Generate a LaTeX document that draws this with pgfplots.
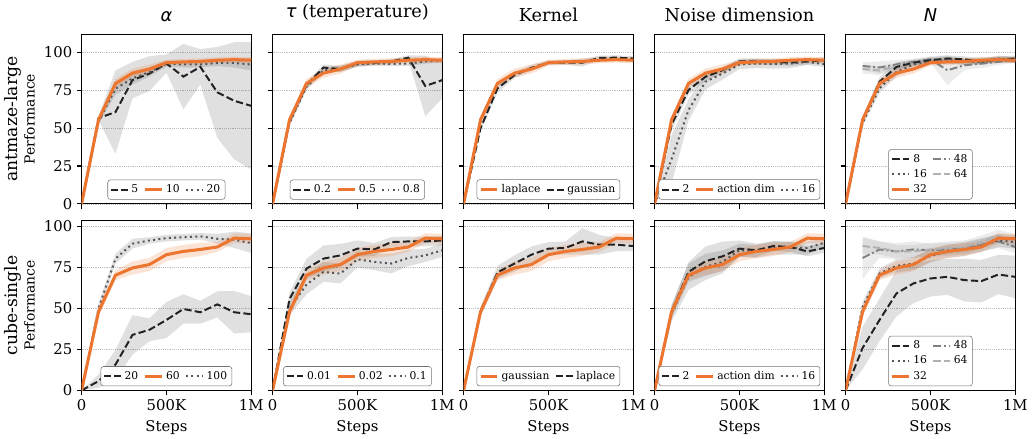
\documentclass[border=0pt]{standalone}
\usepackage{fontspec}
\setmainfont{DejaVu Serif}
\newfontfamily\dvsans{DejaVu Sans}
\usepackage{pgfplots}
\usepackage{pgfplotstable}
\pgfplotsset{compat=1.18}
\usepgfplotslibrary{groupplots,fillbetween}

\definecolor{orng}{HTML}{EC7630}
\definecolor{dk}{HTML}{222222}
\definecolor{dotc}{HTML}{555555}
\definecolor{midc}{HTML}{808080}
\definecolor{ltc}{HTML}{B0B0B0}

\pgfplotsset{
  orl/.style={orng, line width=2.3pt},
  dsh/.style={dk, line width=1.5pt, dash pattern=on 5.5pt off 2.4pt},
  dtt/.style={dotc, line width=1.5pt, dash pattern=on 1.5pt off 2.5pt},
  dshdot/.style={midc, line width=1.5pt, dash pattern=on 6pt off 2pt on 1.5pt off 2pt},
  ltdsh/.style={ltc, line width=1.5pt, dash pattern=on 5.5pt off 2.4pt},
  gband/.style={fill=black, fill opacity=0.12},
  oband/.style={fill=orng, fill opacity=0.2},
  lband/.style={fill=midc, fill opacity=0.15},
}

% band: mean +- s
\newcommand\band[3]{%
  \addplot[draw=none, forget plot, name path=#3u] table[x=x, y expr=\thisrow{m}+\thisrow{s}] {#1};
  \addplot[draw=none, forget plot, name path=#3l] table[x=x, y expr=\thisrow{m}-\thisrow{s}] {#1};
  \addplot[#2, forget plot] fill between[of=#3u and #3l];
}
\newcommand\curve[2]{\addplot[#2, forget plot] table[x=x, y=m] {#1};}

% ---- top row: antmaze-large
\pgfplotstableread{
x m s
0 0 0
100 55.5 2
200 79.5 3
300 86.3 3
400 89 3
500 93.2 2
600 93.7 2
700 94 2
800 94.8 2
900 95.2 2
1000 94.8 2
}\topor
\pgfplotstableread{
x m s
0 0 0
100 56.6 1.5
200 60.6 27.5
300 81.7 12
400 86 11.5
500 92.6 6
600 84 21.6
700 90.4 11.7
800 73.6 30
900 68 38.7
1000 64.7 42
}\aFive
\pgfplotstableread{
x m s
0 0 0
100 54.5 2
200 76 4
300 82.8 4
400 87 3
500 92.6 2
600 92 2
700 92 2
800 93 2
900 93 3
1000 92 4
}\aTwenty
\pgfplotstableread{
x m s
0 0 0
100 54.5 2
200 78.4 2
300 90 2
400 89 2
500 92.6 2
600 93.2 1.5
700 94 1.5
800 96.5 1.5
900 77.8 20
1000 81.7 12
}\tTwo
\pgfplotstableread{
x m s
0 0 0
100 53.4 2
200 77.3 2
300 88.2 2
400 89.3 2
500 92 1.5
600 92.6 1.5
700 92.4 1.5
800 92.6 1.5
900 94 1.5
1000 94.8 1.5
}\tEight
\pgfplotstableread{
x m s
0 0 0
100 50 2
200 76.3 3
300 85 2
400 89.8 2
500 93.2 1.5
600 93.2 1.5
700 93.2 2.5
800 96.3 1.5
900 96.5 1.5
1000 95.9 1.5
}\kGauss
\pgfplotstableread{
x m s
0 0 0
100 52.3 4
200 75.2 3
300 83.9 3
400 88.2 2
500 94 2
600 94 2
700 93.7 2
800 93.2 2
900 94 2
1000 94.8 2
}\nTwo
\pgfplotstableread{
x m s
0 0 0
100 29.4 16
200 62 7
300 80.6 5
400 86 4
500 92 3
600 92.6 3
700 92.2 3
800 92.6 3
900 93.7 2
1000 92.2 2
}\nSixteen
\pgfplotstableread{
x m s
0 0 0
100 55.5 2
200 80.6 3
300 90.4 3
400 93.2 2
500 94.8 2
600 95.9 2
700 95.4 2
800 94 2
900 95.2 2
1000 95.9 2
}\NEight
\pgfplotstableread{
x m s
0 0 0
100 53.4 2
200 76.3 3
300 87 3
400 92 2
500 94 2
600 94.8 2
700 93.7 2
800 93.7 2
900 95.9 2
1000 94.8 2
}\NSixteen
\pgfplotstableread{
x m s
100 91 2.5
200 90 4
300 92 3
400 93.7 2
500 95.5 2
600 88.2 10
700 91.5 3
800 92.6 3
900 93.7 2
1000 95.2 2
}\NFortyEight
\pgfplotstableread{
x m s
100 89 3
200 88 3
300 91 2
400 93 2
500 94 2
600 95 2
700 94 2
800 95 2
900 95 2
1000 95 2
}\NSixtyFour

% ---- bottom row: cube-single
\pgfplotstableread{
x m s
0 0 0
100 48 3
200 70.3 3
300 74.7 4
400 76.8 4
500 82.8 4
600 84.8 4
700 86 4
800 87.5 3
900 92.9 3
1000 92.5 3
}\botor
\pgfplotstableread{
x m s
0 0 0
100 5.7 4
200 15.8 9
300 33.9 12
400 37 7
500 43 11
600 49.7 9
700 47.7 7
800 52.5 8
900 47.7 13
1000 46.5 11
}\bTwenty
\pgfplotstableread{
x m s
0 0 0
100 50 3
200 80.4 3
300 89.5 3
400 91.5 2
500 92.9 2
600 93.5 2
700 94 2
800 92.5 3
900 91.9 5
1000 89.9 6
}\bHundred
\pgfplotstableread{
x m s
0 0 0
100 55.8 4
200 74.3 6
300 80.4 8
400 82.4 7
500 86.5 5
600 86 4
700 90.5 3
800 90.9 3
900 90.9 3
1000 91.5 3
}\btOne
\pgfplotstableread{
x m s
0 0 0
100 50 4
200 64.6 6
300 72.3 6
400 71.3 6
500 80 5
600 78.4 5
700 77.4 6
800 80.8 5
900 82.4 4
1000 85.5 4
}\btTen
\pgfplotstableread{
x m s
0 0 0
100 48 3
200 72 4
300 77.4 5
400 82.8 5
500 86.5 4
600 86.9 4
700 90.9 8
800 88.9 6
900 88.9 4
1000 88.1 3
}\bkLap
\pgfplotstableread{
x m s
0 0 0
100 48 4
200 72.3 6
300 78.8 9
400 81.8 9
500 86.5 5
600 85.5 4
700 88.1 3
800 87.5 3
900 84.8 3
1000 86.9 3
}\bnTwo
\pgfplotstableread{
x m s
0 0 0
100 47 5
200 69.3 8
300 75.4 8
400 78.4 7
500 85.5 4
600 84.8 4
700 86.9 4
800 86.9 4
900 86.9 4
1000 90.1 3
}\bnSixteen
\pgfplotstableread{
x m s
0 0 0
100 25.9 13
200 43 13
300 59.2 14
400 65.3 12
500 68.3 11
600 69.3 11
700 67.3 13
800 66.7 13
900 70.7 12
1000 69.3 13
}\bNEight
\pgfplotstableread{
x m s
0 0 0
100 51 3
200 71.3 3
300 76 4
400 77.4 4
500 82 4
600 84.8 4
700 86 4
800 88.5 4
900 91.5 4
1000 90.5 4
}\bNSixteen
\pgfplotstableread{
x m s
100 80.8 13
200 86 5
300 84.8 5
400 86 5
500 85.5 4
600 86 4
700 86.9 4
800 88.9 4
900 90.9 4
1000 87.5 4
}\bNFortyEight
\pgfplotstableread{
x m s
100 88.1 5
200 86.9 4
300 84.8 4
400 84.8 4
500 86 4
600 86.9 4
700 87.5 4
800 90.5 4
900 94.1 4
1000 91.5 4
}\bNSixtyFour

\begin{document}
\begin{tikzpicture}
\begin{groupplot}[
  group style={group size=5 by 2, horizontal sep=16.1pt, vertical sep=12.75pt,
    xticklabels at=edge bottom, yticklabels at=edge left, xlabels at=edge bottom},
  scale only axis, width=128.25pt, height=128.25pt,
  xmin=0, xmax=1000, ymin=0,
  xtick={0,500,1000}, xticklabels={0,500K,1M},
  ytick={0,25,50,75,100},
  xlabel={Steps},
  ymajorgrids, grid style={densely dotted, black!25, line width=0.5pt},
  tick align=outside, tick pos=left, major tick length=3.5pt,
  axis line style={line width=0.8pt},
  every tick/.style={black, line width=0.8pt},
  ticklabel style={font=\fontsize{11.2}{12}\selectfont},
  /pgf/number format/assume math mode=true,
  label style={font=\fontsize{11.2}{12}\selectfont},
  title style={font=\fontsize{13.4}{15}\selectfont},
  legend style={at={(0.5,0.025)}, anchor=south,
    font=\fontsize{8.1}{10}\selectfont, draw=black!55, rounded corners=2pt,
    inner sep=1.6pt, /tikz/every even column/.append style={column sep=2pt}},
  legend cell align=left,
  legend image code/.code={\draw[#1] (0cm,0cm) -- (0.45cm,0cm);},
]
% ---------------- row 1
\nextgroupplot[ymax=112, title={{\dvsans\itshape α}}, legend columns=3,
  ylabel={{\fontsize{13}{15}\selectfont antmaze-large}\\[1pt]{\fontsize{10.5}{12}\selectfont Performance}},
  ylabel style={align=center}]
\addlegendimage{dsh}\addlegendentry{5}
\addlegendimage{orl}\addlegendentry{10}
\addlegendimage{dtt}\addlegendentry{20}
\band{\aFive}{gband}{a}
\band{\aTwenty}{gband}{b}
\band{\topor}{oband}{c}
\curve{\aFive}{dsh}
\curve{\aTwenty}{dtt}
\curve{\topor}{orl}

\nextgroupplot[ymax=112, title={{\dvsans\itshape τ} (temperature)}, legend columns=3]
\addlegendimage{dsh}\addlegendentry{0.2}
\addlegendimage{orl}\addlegendentry{0.5}
\addlegendimage{dtt}\addlegendentry{0.8}
\band{\tTwo}{gband}{a}
\band{\tEight}{gband}{b}
\band{\topor}{oband}{c}
\curve{\tTwo}{dsh}
\curve{\tEight}{dtt}
\curve{\topor}{orl}

\nextgroupplot[ymax=112, title={Kernel}, legend columns=2]
\addlegendimage{orl}\addlegendentry{laplace}
\addlegendimage{dsh}\addlegendentry{gaussian}
\band{\kGauss}{gband}{a}
\band{\topor}{oband}{c}
\curve{\kGauss}{dsh}
\curve{\topor}{orl}

\nextgroupplot[ymax=112, title={Noise dimension}, legend columns=3]
\addlegendimage{dsh}\addlegendentry{2}
\addlegendimage{orl}\addlegendentry{action dim}
\addlegendimage{dtt}\addlegendentry{16}
\band{\nTwo}{gband}{a}
\band{\nSixteen}{gband}{b}
\band{\topor}{oband}{c}
\curve{\nTwo}{dsh}
\curve{\nSixteen}{dtt}
\curve{\topor}{orl}

\nextgroupplot[ymax=112, title={{\dvsans\itshape N}}, legend columns=2]
\addlegendimage{dsh}\addlegendentry{8}
\addlegendimage{dshdot}\addlegendentry{48}
\addlegendimage{dtt}\addlegendentry{16}
\addlegendimage{ltdsh}\addlegendentry{64}
\addlegendimage{orl}\addlegendentry{32}
\band{\NFortyEight}{lband}{d}
\band{\NSixtyFour}{lband}{e}
\band{\NEight}{gband}{a}
\band{\NSixteen}{gband}{b}
\band{\topor}{oband}{c}
\curve{\NFortyEight}{dshdot}
\curve{\NSixtyFour}{ltdsh}
\curve{\NEight}{dsh}
\curve{\NSixteen}{dtt}
\curve{\topor}{orl}

% ---------------- row 2
\nextgroupplot[ymax=103.5, legend columns=3,
  ylabel={{\fontsize{13}{15}\selectfont cube-single}\\[1pt]{\fontsize{10.5}{12}\selectfont Performance}},
  ylabel style={align=center}]
\addlegendimage{dsh}\addlegendentry{20}
\addlegendimage{orl}\addlegendentry{60}
\addlegendimage{dtt}\addlegendentry{100}
\band{\bTwenty}{gband}{a}
\band{\bHundred}{gband}{b}
\band{\botor}{oband}{c}
\curve{\bTwenty}{dsh}
\curve{\bHundred}{dtt}
\curve{\botor}{orl}

\nextgroupplot[ymax=103.5, legend columns=3]
\addlegendimage{dsh}\addlegendentry{0.01}
\addlegendimage{orl}\addlegendentry{0.02}
\addlegendimage{dtt}\addlegendentry{0.1}
\band{\btOne}{gband}{a}
\band{\btTen}{gband}{b}
\band{\botor}{oband}{c}
\curve{\btOne}{dsh}
\curve{\btTen}{dtt}
\curve{\botor}{orl}

\nextgroupplot[ymax=103.5, legend columns=2]
\addlegendimage{orl}\addlegendentry{gaussian}
\addlegendimage{dsh}\addlegendentry{laplace}
\band{\bkLap}{gband}{a}
\band{\botor}{oband}{c}
\curve{\bkLap}{dsh}
\curve{\botor}{orl}

\nextgroupplot[ymax=103.5, legend columns=3]
\addlegendimage{dsh}\addlegendentry{2}
\addlegendimage{orl}\addlegendentry{action dim}
\addlegendimage{dtt}\addlegendentry{16}
\band{\bnTwo}{gband}{a}
\band{\bnSixteen}{gband}{b}
\band{\botor}{oband}{c}
\curve{\bnTwo}{dsh}
\curve{\bnSixteen}{dtt}
\curve{\botor}{orl}

\nextgroupplot[ymax=103.5, legend columns=2]
\addlegendimage{dsh}\addlegendentry{8}
\addlegendimage{dshdot}\addlegendentry{48}
\addlegendimage{dtt}\addlegendentry{16}
\addlegendimage{ltdsh}\addlegendentry{64}
\addlegendimage{orl}\addlegendentry{32}
\band{\bNFortyEight}{lband}{d}
\band{\bNSixtyFour}{lband}{e}
\band{\bNEight}{gband}{a}
\band{\bNSixteen}{gband}{b}
\band{\botor}{oband}{c}
\curve{\bNFortyEight}{dshdot}
\curve{\bNSixtyFour}{ltdsh}
\curve{\bNEight}{dsh}
\curve{\bNSixteen}{dtt}
\curve{\botor}{orl}
\end{groupplot}
\path ([shift={(-58.5pt,21.75pt)}]group c1r1.north west) rectangle
      ([shift={(9.75pt,-36pt)}]group c5r2.south east);
\end{tikzpicture}
\end{document}
